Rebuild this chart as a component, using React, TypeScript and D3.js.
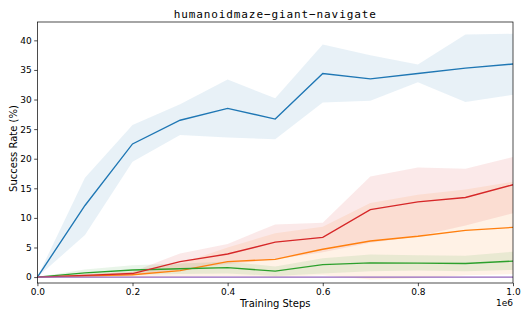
import React, { useRef, useEffect } from 'react';
import * as d3 from 'd3';

// training steps (x values)
const steps = [0, 1e5, 2e5, 3e5, 4e5, 5e5, 6e5, 7e5, 8e5, 9e5, 1e6];

// mean success rate per method, with lower/upper band
const blueMean = [0, 12.1, 22.5, 26.5, 28.5, 26.7, 34.4, 33.5, 34.4, 35.3, 36.0];
const blueLow = [0, 7.1, 19.5, 24.0, 23.6, 23.3, 29.5, 29.8, 32.9, 29.6, 30.8];
const blueHigh = [0, 16.8, 25.7, 29.2, 33.4, 30.2, 39.3, 37.5, 35.9, 41.0, 41.1];

const orangeMean = [0, 0.2, 0.4, 1.1, 2.6, 3.0, 4.7, 6.1, 6.9, 7.9, 8.4];
const orangeLow = [0, 0, 0, 0.1, 0.2, 0.0, 0.3, -0.4, -0.2, 0.3, 0.5];
const orangeHigh = [0, 0.5, 0.9, 2.3, 5.0, 7.4, 8.5, 12.5, 13.9, 14.8, 16.1];

const greenMean = [0, 0.7, 1.2, 1.4, 1.6, 1.0, 2.1, 2.4, 2.35, 2.3, 2.7];
const greenLow = [0, 0.1, 0.4, 0.5, 0.6, 0.2, 0.6, 1.0, 1.1, 1.0, 1.2];
const greenHigh = [0, 1.3, 2.0, 2.3, 2.6, 1.8, 3.2, 3.8, 3.7, 3.6, 4.3];

const redMean = [0, 0.3, 0.6, 2.6, 3.9, 5.9, 6.7, 11.4, 12.7, 13.45, 15.6];
const redLow = [0, 0.0, 0.3, 1.3, 2.2, 3.0, 4.2, 5.8, 6.9, 8.7, 10.8];
const redHigh = [0, 0.5, 0.9, 4.0, 5.6, 8.9, 9.2, 17.0, 18.5, 18.3, 20.3];

const purpleMean = [0, 0, 0, 0, 0, 0, 0, 0, 0, 0, 0];

const xTicks = [0, 2e5, 4e5, 6e5, 8e5, 1e6];
const yTicks = [0, 5, 10, 15, 20, 25, 30, 35, 40];

const series = [
  { color: '#1f77b4', mean: blueMean, low: blueLow, high: blueHigh },
  { color: '#ff7f0e', mean: orangeMean, low: orangeLow, high: orangeHigh },
  { color: '#2ca02c', mean: greenMean, low: greenLow, high: greenHigh },
  { color: '#d62728', mean: redMean, low: redLow, high: redHigh },
  { color: '#9467bd', mean: purpleMean, low: purpleMean, high: purpleMean },
];

const W = 529;
const H = 318;
const margin = { top: 22, right: 16, bottom: 35, left: 37.4 };

const Chart = () => {
  const svgRef = useRef<SVGSVGElement>(null);

  useEffect(() => {
    const svg = d3.select(svgRef.current);
    svg.selectAll('*').remove();

    const iw = W - margin.left - margin.right;
    const ih = H - margin.top - margin.bottom;

    const x = d3.scaleLinear().domain([0, 1e6]).range([0, iw]);
    const y = d3.scaleLinear().domain([-1.0, 43.1]).range([ih, 0]);

    const g = svg.append('g').attr('transform', `translate(${margin.left},${margin.top})`);

    g.append('defs').append('clipPath').attr('id', 'plotclip')
      .append('rect').attr('width', iw).attr('height', ih);
    const plot = g.append('g').attr('clip-path', 'url(#plotclip)');

    series.forEach((s) => {
      const area = d3.area<number>()
        .x((d, i) => x(steps[i]))
        .y0((d, i) => y(s.low[i]))
        .y1((d, i) => y(s.high[i]));
      plot.append('path')
        .datum(s.mean)
        .attr('fill', s.color)
        .attr('fill-opacity', 0.1)
        .attr('d', area);
    });

    series.forEach((s) => {
      const line = d3.line<number>()
        .x((d, i) => x(steps[i]))
        .y((d) => y(d));
      plot.append('path')
        .datum(s.mean)
        .attr('fill', 'none')
        .attr('stroke', s.color)
        .attr('stroke-width', 1.35)
        .attr('d', line);
    });

    // axes
    const xAxis = d3.axisBottom(x).tickValues(xTicks).tickSize(3.2).tickPadding(2.5)
      .tickFormat((d) => (+d / 1e6).toFixed(1));
    const yAxis = d3.axisLeft(y).tickValues(yTicks).tickSize(3.2).tickPadding(2.5)
      .tickFormat((d) => String(d));

    const gx = g.append('g').attr('transform', `translate(0,${ih})`).call(xAxis);
    const gy = g.append('g').call(yAxis);
    [gx, gy].forEach((a) => {
      a.select('.domain').remove();
      a.selectAll('line').attr('stroke', '#000').attr('stroke-width', 0.7);
      a.selectAll('text')
        .attr('font-family', 'DejaVu Sans')
        .attr('font-size', 9)
        .attr('fill', '#000');
    });

    g.append('rect')
      .attr('width', iw)
      .attr('height', ih)
      .attr('fill', 'none')
      .attr('stroke', '#000')
      .attr('stroke-width', 0.7);

    // offset label
    g.append('text')
      .attr('x', iw)
      .attr('y', ih + 23)
      .attr('text-anchor', 'end')
      .attr('font-family', 'DejaVu Sans')
      .attr('font-size', 9)
      .text('1e6');

    g.append('text')
      .attr('x', iw / 2)
      .attr('y', ih + 23.5)
      .attr('text-anchor', 'middle')
      .attr('font-family', 'DejaVu Sans')
      .attr('font-size', 10)
      .text('Training Steps');

    g.append('text')
      .attr('transform', `translate(${-20.4},${ih / 2 - 4}) rotate(-90)`)
      .attr('text-anchor', 'middle')
      .attr('font-family', 'DejaVu Sans')
      .attr('font-size', 10)
      .text('Success Rate (%)');

    g.append('text')
      .attr('x', iw / 2)
      .attr('y', -4.5)
      .attr('text-anchor', 'middle')
      .attr('font-family', 'DejaVu Sans Mono')
      .attr('font-size', 11)
      .attr('letter-spacing', 0.9)
      .text('humanoidmaze−giant−navigate');
  }, []);

  return <svg ref={svgRef} width={W} height={H} style={{ display: 'block' }}></svg>;
};

export default function App() {
  return (
    <div style={{ margin: -8 }}>
      <Chart />
    </div>
  );
}
